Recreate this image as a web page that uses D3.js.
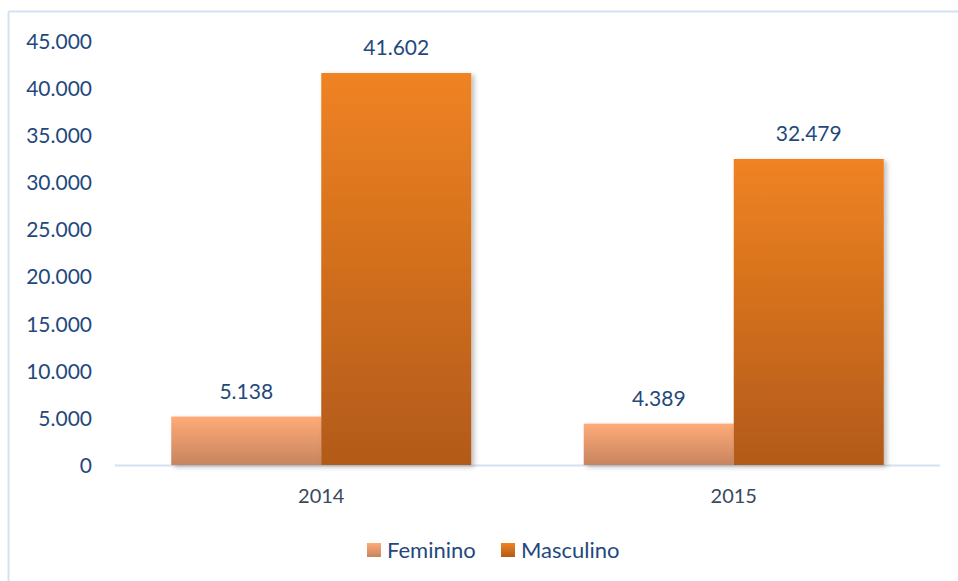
<!DOCTYPE html>
<html><head><meta charset="utf-8">
<script src="https://cdn.jsdelivr.net/npm/d3@7"></script>
<style>body{margin:0;background:#fff;}svg{display:block;}</style>
</head><body>
<svg id="c" width="958" height="581"></svg>
<script>
const years = ["2014", "2015"];
const seriesNames = ["Feminino", "Masculino"];
const feminino = [5138, 4389];
const masculino = [41602, 32479];
const yTicks = [0, 5000, 10000, 15000, 20000, 25000, 30000, 35000, 40000, 45000];

const svg = d3.select("#c");
const font = "Lato, 'Open Sans', sans-serif";
const txt = "#1f497d";

const defs = svg.append("defs");
const grads = [["gF", "#ffab78", "#c7845f"], ["gM", "#f08322", "#b25a19"]];
grads.forEach(([id, a, b]) => {
  const g = defs.append("linearGradient").attr("id", id).attr("x1", 0).attr("y1", 0).attr("x2", 0).attr("y2", 1);
  g.append("stop").attr("offset", "0%").attr("stop-color", a);
  g.append("stop").attr("offset", "100%").attr("stop-color", b);
});
const f = defs.append("filter").attr("id", "sh").attr("x", "-10%").attr("y", "-10%").attr("width", "130%").attr("height", "130%");
f.append("feDropShadow").attr("dx", 3).attr("dy", 2).attr("stdDeviation", 2.5).attr("flood-color", "#000").attr("flood-opacity", 0.25);

// frame
svg.append("line").attr("x1", 8.5).attr("x2", 8.5).attr("y1", 11.5).attr("y2", 581).attr("stroke", "#d5e1f2").attr("stroke-width", 2);
svg.append("line").attr("x1", 8.5).attr("x2", 958).attr("y1", 11.5).attr("y2", 11.5).attr("stroke", "#d5e1f2").attr("stroke-width", 2);

const y = d3.scaleLinear().domain([0, 45000]).range([465, 41]);
const x0 = d3.scaleBand().domain(years).range([115, 940]).paddingInner(0.2727).paddingOuter(0.13635);
const x1 = d3.scaleBand().domain(seriesNames).range([0, x0.bandwidth()]);
const fmt = v => d3.format(",")(v).replace(/,/g, ".");

// y axis labels
const yAxis = d3.axisLeft(y).tickValues(yTicks).tickFormat(fmt).tickSize(0).tickPadding(0);
const ya = svg.append("g").attr("transform", "translate(92,0)").call(yAxis);
ya.select(".domain").remove();
ya.selectAll("text").attr("fill", txt).style("font-family", font).style("font-size", "21px").attr("dy", "0.35em");

// baseline
svg.append("line").attr("x1", 115).attr("x2", 940).attr("y1", y(0) + 0.5).attr("y2", y(0) + 0.5).attr("stroke", "#d5e1f2").attr("stroke-width", 2);

const data = years.map((yr, i) => ({ yr, vals: [{ s: "Feminino", v: feminino[i], g: "gF" }, { s: "Masculino", v: masculino[i], g: "gM" }] }));
const groups = svg.selectAll("g.grp").data(data).join("g").attr("class", "grp").attr("transform", d => `translate(${x0(d.yr)},0)`);
groups.selectAll("rect").data(d => d.vals).join("rect")
  .attr("x", d => x1(d.s)).attr("width", x1.bandwidth())
  .attr("y", d => y(d.v)).attr("height", d => y(0) - y(d.v))
  .attr("fill", d => `url(#${d.g})`).attr("filter", "url(#sh)");
groups.selectAll("text.val").data(d => d.vals).join("text").attr("class", "val")
  .attr("x", d => x1(d.s) + x1.bandwidth() / 2).attr("y", d => y(d.v) - 18)
  .attr("text-anchor", "middle").attr("fill", txt).style("font-family", font).style("font-size", "21px")
  .text(d => fmt(d.v));

// x axis labels
const xAxis = d3.axisBottom(x0).tickSize(0).tickPadding(0);
const xa = svg.append("g").attr("transform", `translate(0,${y(0) + 31})`).call(xAxis);
xa.select(".domain").remove();
xa.selectAll("text").attr("fill", "#3a4860").style("font-family", font).style("font-size", "20px").attr("dy", "0.35em");

// legend
const leg = [{ s: "Feminino", g: "gF", x: 367 }, { s: "Masculino", g: "gM", x: 501 }];
const lg = svg.selectAll("g.leg").data(leg).join("g").attr("class", "leg").attr("transform", d => `translate(${d.x},543)`);
lg.append("rect").attr("width", 14).attr("height", 14).attr("fill", d => `url(#${d.g})`);
lg.append("text").attr("x", 20).attr("y", 7).attr("dy", "0.35em").attr("fill", txt).style("font-family", font).style("font-size", "22px").text(d => d.s);
</script>
</body></html>
